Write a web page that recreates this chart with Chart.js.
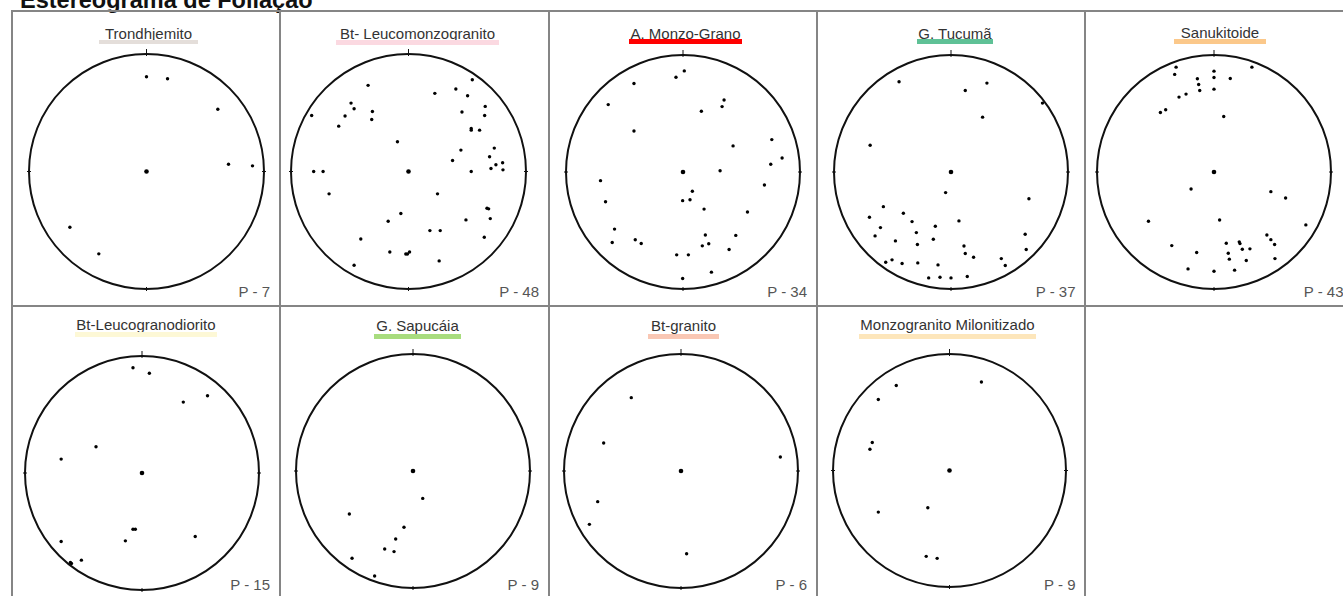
<!DOCTYPE html>
<html>
<head>
<meta charset="utf-8">
<script src="https://cdn.jsdelivr.net/npm/chart.js@4.4.1/dist/chart.umd.min.js"></script>
<style>
  html, body { margin: 0; padding: 0; background: #fff; }
  body { width: 1343px; height: 596px; position: relative; overflow: hidden;
         font-family: "Liberation Sans", Arial, sans-serif; }
  .hl { position: absolute; height: 2px; background: #858585; }
  .vl { position: absolute; width: 2px; background: #858585; }
  .title { position: absolute; font-size: 15px; line-height: 15px; color: #333;
           white-space: nowrap; transform: translateX(-50%); }
  .bar { position: absolute; }
  .count { position: absolute; font-size: 15px; line-height: 15px; color: #555;
           white-space: nowrap; transform: translateX(-100%); }
  .net { position: absolute; }
  #mainTitle { position: absolute; left: 20px; top: -12px; font-size: 23.5px;
               line-height: 24px; font-weight: bold; color: #111; white-space: nowrap; }
</style>
</head>
<body>
<div id="mainTitle">Estereograma de Foliação</div>
<script>
const trondhjemito = [[0.000,0.806],[0.179,0.789],[0.607,0.530],[0.698,0.062],[0.902,0.048],[-0.652,-0.474],[-0.406,-0.701]];

const leucomonzogranito = [[0.543,0.781],[-0.344,0.733],[0.403,0.702],[0.224,0.665],[0.503,0.645],[-0.489,0.582],
  [-0.463,0.534],[-0.307,0.511],[0.653,0.554],[-0.824,0.477],[-0.540,0.472],[-0.313,0.443],[0.455,0.506],[0.648,0.477],
  [-0.594,0.386],[0.534,0.366],[0.534,0.352],[0.605,0.352],[-0.094,0.253],[0.730,0.199],[0.446,0.182],[0.690,0.125],
  [0.375,0.094],[0.801,0.074],[0.744,0.057],[0.702,0.026],[0.804,0.014],[-0.807,0.000],[-0.727,0.000],[0.534,0.000],
  [-0.676,-0.190],[0.247,-0.190],[0.668,-0.313],[0.682,-0.318],[-0.065,-0.358],[-0.173,-0.423],[0.489,-0.412],
  [0.696,-0.401],[0.182,-0.503],[0.270,-0.503],[-0.406,-0.574],[0.645,-0.560],[-0.159,-0.685],[-0.023,-0.702],
  [-0.009,-0.702],[0.009,-0.685],[0.261,-0.761],[-0.463,-0.798]];

const monzoGrano = [[0.011,0.864],[-0.060,0.810],[-0.419,0.756],[0.351,0.616],[-0.639,0.576],[0.334,0.559],[0.157,0.519],
  [-0.419,0.351],[0.759,0.277],[0.428,0.223],[0.847,0.120],[0.750,0.066],[0.317,0.011],[-0.705,-0.074],[0.696,-0.111],
  [0.080,-0.165],[-0.662,-0.254],[-0.003,-0.245],[0.060,-0.237],[0.180,-0.317],[0.551,-0.342],[-0.585,-0.488],
  [0.451,-0.542],[0.191,-0.539],[-0.408,-0.579],[-0.605,-0.602],[-0.357,-0.611],[0.220,-0.613],[0.165,-0.631],
  [0.394,-0.662],[-0.054,-0.708],[0.046,-0.708],[0.243,-0.856],[-0.003,-0.910]];

const tucuma = [[-0.444,0.771],[0.307,0.760],[0.122,0.697],[0.782,0.589],[0.270,0.469],[-0.691,0.228],[-0.046,-0.176],
  [0.666,-0.228],[-0.578,-0.296],[-0.407,-0.353],[-0.697,-0.387],[-0.333,-0.424],[0.068,-0.418],[-0.603,-0.475],
  [-0.134,-0.464],[-0.296,-0.518],[-0.649,-0.546],[0.634,-0.532],[-0.151,-0.575],[-0.475,-0.589],[-0.287,-0.620],
  [0.111,-0.632],[0.643,-0.663],[0.122,-0.697],[0.193,-0.728],[0.430,-0.740],[-0.504,-0.751],[-0.558,-0.771],
  [-0.418,-0.782],[-0.284,-0.777],[-0.111,-0.794],[0.464,-0.799],[-0.191,-0.905],[-0.094,-0.899],[0.000,-0.905],
  [0.139,-0.893]];

const sanukitoide = [[-0.324,0.896],[0.324,0.896],[0.000,0.862],[-0.336,0.834],[0.000,0.808],[-0.142,0.797],[0.139,0.799],
  [-0.131,0.748],[-0.122,0.697],[0.000,0.708],[-0.239,0.666],[-0.299,0.640],[-0.413,0.532],[-0.458,0.509],[0.083,0.475],
  [-0.196,-0.145],[0.486,-0.168],[0.612,-0.222],[-0.560,-0.421],[0.048,-0.410],[0.785,-0.452],[0.452,-0.538],
  [0.486,-0.578],[0.518,-0.620],[0.105,-0.609],[0.216,-0.597],[0.222,-0.612],[-0.361,-0.629],[0.242,-0.660],
  [0.307,-0.657],[-0.148,-0.688],[0.122,-0.694],[0.131,-0.745],[0.276,-0.757],[0.521,-0.740],[-0.222,-0.828],
  [0.000,-0.848],[0.176,-0.839]];

const leucogranodiorito = [[-0.077,0.899],[0.063,0.853],[0.560,0.660],[0.353,0.606],[-0.393,0.225],[-0.691,0.119],
  [-0.077,-0.481],[-0.057,-0.481],[0.455,-0.543],[-0.691,-0.586],[-0.142,-0.580],[-0.518,-0.745],[-0.603,-0.774],
  [-0.612,-0.765]];

const sapucaia = [[0.083,-0.234],[-0.544,-0.368],[-0.077,-0.481],[-0.148,-0.581],[-0.242,-0.667],[-0.162,-0.689],
  [-0.521,-0.746],[-0.328,-0.897]];

const btGranito = [[-0.425,0.627],[-0.661,0.239],[0.849,0.120],[-0.712,-0.262],[-0.783,-0.456],[0.048,-0.707]];

const milonitizado = [[0.274,0.760],[-0.457,0.729],[-0.611,0.609],[-0.663,0.240],[-0.683,0.183],[-0.186,-0.320],
  [-0.611,-0.357],[-0.200,-0.737],[-0.106,-0.754]];

const unitNames = ['Trondhjemito', 'Bt- Leucomonzogranito', 'A. Monzo-Grano', 'G. Tucumã', 'Sanukitoide',
  'Bt-Leucogranodiorito', 'G. Sapucáia', 'Bt-granito', 'Monzogranito Milonitizado'];
const unitCounts = ['P - 7', 'P - 48', 'P - 34', 'P - 37', 'P - 43', 'P - 15', 'P - 9', 'P - 6', 'P - 9'];
const unitColors = ['#e4deda', '#fbd9e1', '#ff0000', '#5fc196', '#fbc88a', '#fdf8d6', '#a8dc7e', '#f9c7b4', '#fde6bb'];
const unitPoles = [trondhjemito, leucomonzogranito, monzoGrano, tucuma, sanukitoide,
  leucogranodiorito, sapucaia, btGranito, milonitizado];

// Page layout (pixels): net centre / radius, title baseline, colour bar [left, right, top, height]
const layout = [
  { cx: 146, cy: 171.7, r: 117.5, ty: 38.3, bar: [99, 198, 40, 4] },
  { cx: 408, cy: 171.7, r: 117.5, ty: 38.3, bar: [336, 499, 40.3, 4.5] },
  { cx: 682.5, cy: 171.7, r: 117, ty: 38.3, bar: [629, 742, 39.3, 5], under: true },
  { cx: 950.5, cy: 171.7, r: 117, ty: 38.3, bar: [917, 993, 39.3, 5], under: true },
  { cx: 1214, cy: 171.7, r: 117, ty: 37.5, bar: [1174, 1266, 39.3, 5] },
  { cx: 142, cy: 473.3, r: 117, ty: 329.3, bar: [75, 217, 331.7, 5] },
  { cx: 413, cy: 470.7, r: 117, ty: 330.5, bar: [374, 461, 334, 5] },
  { cx: 681, cy: 470.8, r: 117, ty: 330.5, bar: [648, 719, 333.5, 5.5] },
  { cx: 949.3, cy: 470.8, r: 116.7, ty: 329.3, bar: [859, 1036, 334, 5] }
];
const colLines = [11, 278.5, 547.5, 815.5, 1084];
const rowLines = [10, 305];
const PAD = 7;

function addDiv(cls, css, text) {
  const d = document.createElement('div');
  d.className = cls;
  Object.assign(d.style, css);
  if (text) d.textContent = text;
  document.body.appendChild(d);
  return d;
}

// panel grid
colLines.forEach(x => addDiv('vl', { left: x + 'px', top: rowLines[0] + 'px', height: (596 - rowLines[0]) + 'px' }));
rowLines.forEach(y => addDiv('hl', { left: colLines[0] + 'px', top: y + 'px', width: (1343 - colLines[0]) + 'px' }));

// draws the primitive circle and N/E/S/W ticks from the chart scales
const netPlugin = {
  id: 'net',
  beforeDatasetsDraw(chart) {
    const xs = chart.scales.x, ys = chart.scales.y, ctx = chart.ctx;
    const cx = xs.getPixelForValue(0), cy = ys.getPixelForValue(0);
    const r = xs.getPixelForValue(1) - cx;
    ctx.save();
    ctx.strokeStyle = '#111';
    ctx.lineWidth = 2;
    ctx.beginPath();
    ctx.arc(cx, cy, r, 0, Math.PI * 2);
    ctx.stroke();
    ctx.lineWidth = 1;
    ctx.beginPath();
    ctx.moveTo(cx, cy - r + 2); ctx.lineTo(cx, cy - r - 5);
    ctx.moveTo(cx, cy + r - 2); ctx.lineTo(cx, cy + r + 2);
    ctx.moveTo(cx - r - 2, cy); ctx.lineTo(cx - r + 2, cy);
    ctx.moveTo(cx + r - 2, cy); ctx.lineTo(cx + r + 2, cy);
    ctx.stroke();
    ctx.restore();
  }
};

unitNames.forEach((name, i) => {
  const L = layout[i];
  const colRight = colLines[i % 5 + 1] !== undefined ? colLines[i % 5 + 1] : colLines[4] + 268;

  const t = addDiv('title', { left: ((L.bar[0] + L.bar[1]) / 2) + 'px', top: (L.ty - 12.7) + 'px' }, name);
  if (L.under) { t.style.textDecoration = 'underline'; t.style.textDecorationColor = '#555'; }
  addDiv('bar', { left: L.bar[0] + 'px', width: (L.bar[1] - L.bar[0]) + 'px', top: L.bar[2] + 'px',
                  height: L.bar[3] + 'px', background: unitColors[i] });
  addDiv('count', { left: (colRight - 8.5) + 'px', top: (i < 5 ? 296.7 : 590) - 12.7 + 'px' }, unitCounts[i]);

  const size = Math.round(2 * L.r + 2 * PAD);
  const box = addDiv('net', { left: (L.cx - L.r - PAD) + 'px', top: (L.cy - L.r - PAD) + 'px',
                              width: size + 'px', height: size + 'px' });
  const canvas = document.createElement('canvas');
  canvas.width = size; canvas.height = size;
  box.appendChild(canvas);

  new Chart(canvas, {
    type: 'scatter',
    data: {
      datasets: [
        {
          data: unitPoles[i].map(p => ({ x: p[0], y: p[1] })),
          backgroundColor: '#000',
          borderWidth: 0,
          pointRadius: 1.7,
          clip: false
        },
        {
          data: [{ x: 0, y: 0 }],
          backgroundColor: '#000',
          borderWidth: 0,
          pointRadius: 2.3,
          clip: false
        }
      ]
    },
    options: {
      responsive: false,
      animation: false,
      layout: { padding: PAD },
      plugins: { legend: { display: false }, tooltip: { enabled: false } },
      scales: {
        x: { type: 'linear', min: -1, max: 1, display: false },
        y: { type: 'linear', min: -1, max: 1, display: false }
      }
    },
    plugins: [netPlugin]
  });
});
</script>
</body>
</html>
